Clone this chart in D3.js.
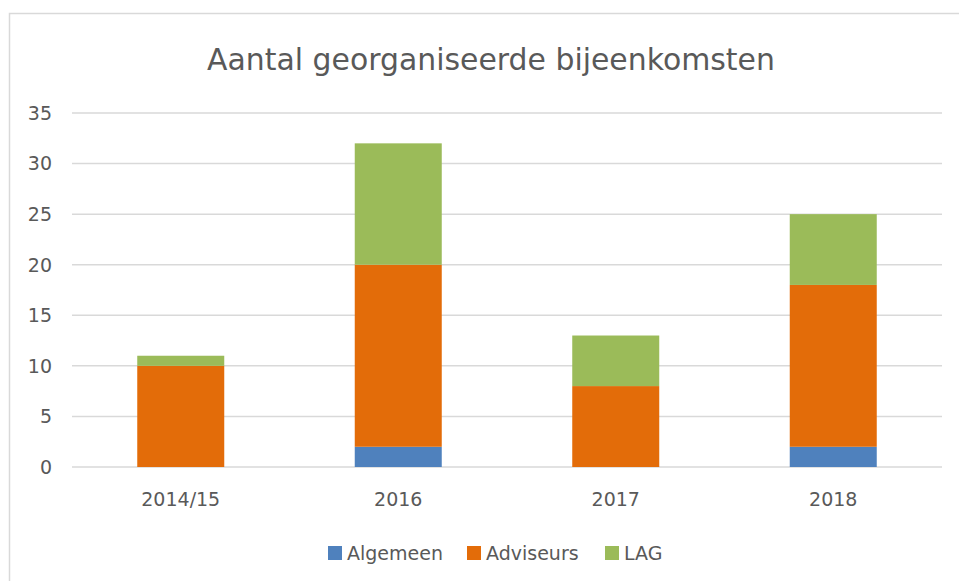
<!DOCTYPE html>
<html>
<head>
<meta charset="utf-8">
<script src="https://cdn.jsdelivr.net/npm/d3@7"></script>
<style>
	body { margin: 0; background: white; }
	text { font-family: "DejaVu Sans", "Noto Sans", sans-serif; }
</style>
</head>
<body>
<div id="chart"></div>
<script>
const categories = ["2014/15", "2016", "2017", "2018"];
const seriesNames = ["Algemeen", "Adviseurs", "LAG"];
const algemeen = [0, 2, 0, 2];
const adviseurs = [10, 18, 8, 16];
const lag = [1, 12, 5, 7];
const yTicks = [0, 5, 10, 15, 20, 25, 30, 35];
const colors = ["#4F81BD", "#E36C09", "#9BBB59"];

const width = 959, height = 581;
const margin = { left: 72, right: 17, top: 113, bottom: 114 };

let rows = categories.map((c, i) => ({ cat: c, Algemeen: algemeen[i], Adviseurs: adviseurs[i], LAG: lag[i] }));
let stacked = d3.stack().keys(seriesNames)(rows);

let svg = d3.select("#chart")
	.append("svg")
	.attr("width", width)
	.attr("height", height);

svg.append("rect")
	.attr("x", 9.5)
	.attr("y", 13.5)
	.attr("width", width)
	.attr("height", height)
	.attr("fill", "white")
	.attr("stroke", "#d9d9d9")
	.attr("stroke-width", 1.5);

let x = d3.scaleBand()
	.domain(categories)
	.range([margin.left, width - margin.right])
	.paddingInner(0.6)
	.paddingOuter(0.3);

let y = d3.scaleLinear()
	.domain([0, 35])
	.range([height - margin.bottom, margin.top]);

// gridlines
svg.append("g")
	.selectAll("line")
	.data(yTicks)
	.join("line")
	.attr("x1", margin.left)
	.attr("x2", width - margin.right)
	.attr("y1", d => y(d))
	.attr("y2", d => y(d))
	.attr("stroke", "#d9d9d9")
	.attr("stroke-width", 1.5);

// y labels
svg.append("g")
	.selectAll("text")
	.data(yTicks)
	.join("text")
	.attr("x", 52)
	.attr("y", d => y(d))
	.attr("dy", "0.36em")
	.attr("text-anchor", "end")
	.attr("font-size", 19)
	.attr("fill", "#595959")
	.text(d => d);

// bars
svg.append("g")
	.selectAll("g")
	.data(stacked)
	.join("g")
	.attr("fill", (d, i) => colors[i])
	.selectAll("rect")
	.data(d => d)
	.join("rect")
	.attr("x", d => x(d.data.cat))
	.attr("width", x.bandwidth())
	.attr("y", d => y(d[1]))
	.attr("height", d => y(d[0]) - y(d[1]));

// x labels
svg.append("g")
	.selectAll("text")
	.data(categories)
	.join("text")
	.attr("x", d => x(d) + x.bandwidth() / 2)
	.attr("y", 506)
	.attr("text-anchor", "middle")
	.attr("font-size", 19)
	.attr("fill", "#595959")
	.text(d => d);

// title
let title = svg.append("text")
	.attr("x", 491)
	.attr("y", 70)
	.attr("text-anchor", "middle")
	.attr("font-size", 30)
	.attr("fill", "#595959")
	.text("Aantal georganiseerde bijeenkomsten");
let tw = title.node().getComputedTextLength();
title.attr("font-size", 30 * 568 / tw);

// legend
let legendX = [328, 467, 605];
let legend = svg.append("g")
	.selectAll("g")
	.data(seriesNames)
	.join("g")
	.attr("transform", (d, i) => `translate(${legendX[i]},553)`);

legend.append("rect")
	.attr("x", 0)
	.attr("y", -7)
	.attr("width", 14)
	.attr("height", 14)
	.attr("fill", (d, i) => colors[i]);

legend.append("text")
	.attr("x", 19)
	.attr("y", 0)
	.attr("dy", "0.36em")
	.attr("font-size", 19)
	.attr("fill", "#595959")
	.text(d => d);
</script>
</body>
</html>
